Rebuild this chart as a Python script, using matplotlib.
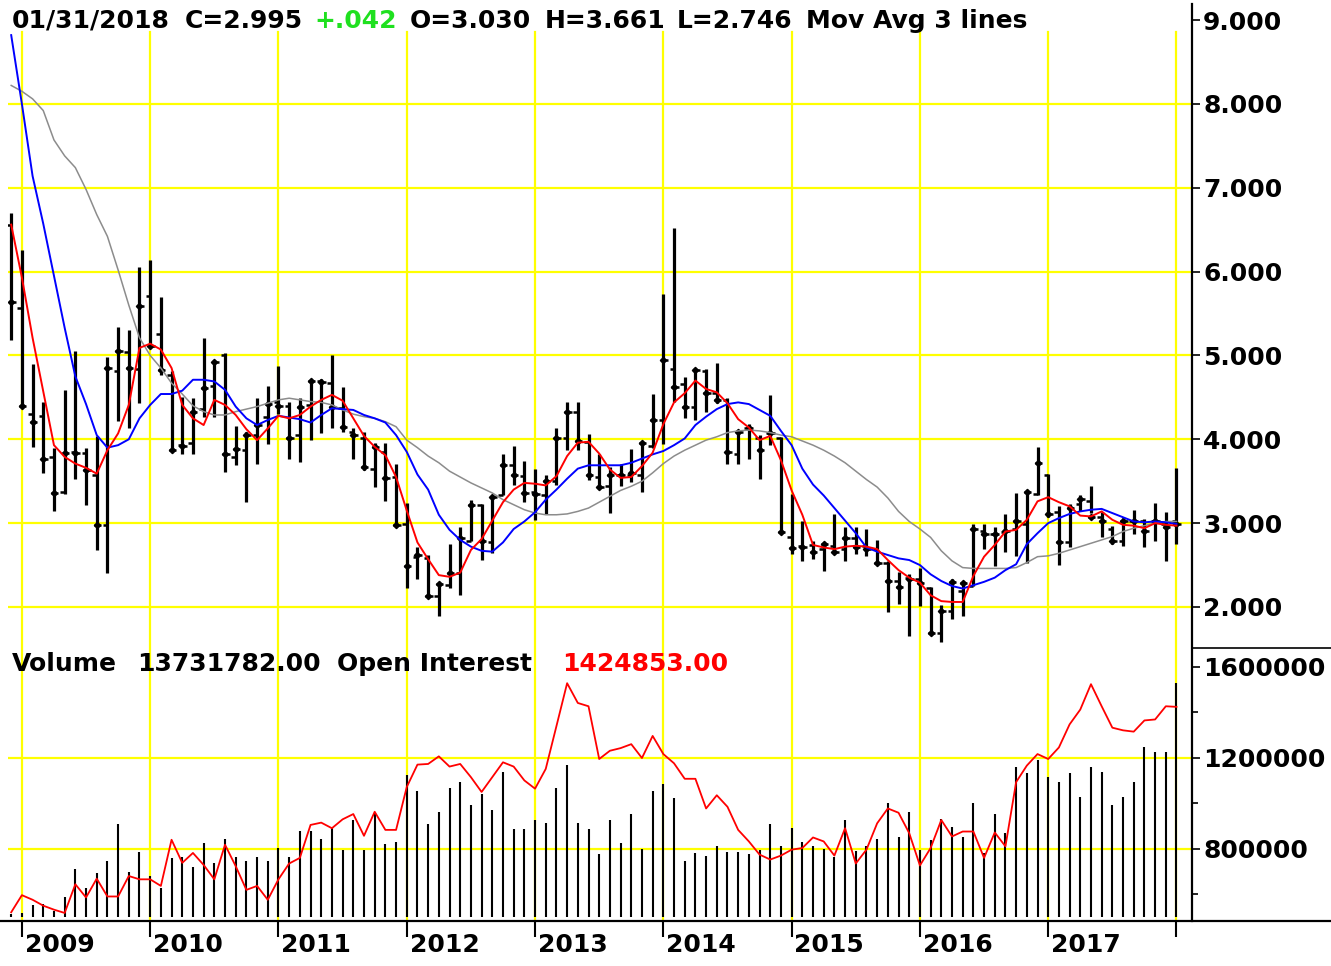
import matplotlib
matplotlib.use("Agg")
import matplotlib.pyplot as plt
from matplotlib.lines import Line2D
from matplotlib.transforms import blended_transform_factory as btf
import numpy as np

plt.rcParams['font.family'] = ['DejaVu Sans']
plt.rcParams['font.weight'] = 'bold'

# ---------------- data (monthly bars, Dec 2008 .. Jan 2018) ----------------
opens = [6.56, 5.57, 4.30, 4.28, 3.79, 3.37, 3.85, 3.84, 3.57, 2.98,
         4.82, 5.04, 4.84, 5.71, 5.26, 4.77, 3.93, 3.95, 4.36, 4.63,
         5.01, 3.79, 3.87, 4.05, 4.27, 4.45, 4.40, 4.05, 4.41, 4.70,
         4.67, 4.37, 4.09, 4.02, 3.65, 3.85, 3.55, 2.99, 2.60, 2.59,
         2.13, 2.26, 2.41, 2.79, 3.22, 2.77, 3.34, 3.69, 3.56, 3.37,
         3.34, 3.50, 4.02, 4.33, 3.97, 3.55, 3.44, 3.58, 3.57, 3.57,
         3.92, 4.23, 4.84, 4.66, 4.39, 4.82, 4.55, 4.47, 3.82, 4.13,
         4.02, 4.07, 4.01, 2.84, 2.73, 2.74, 2.69, 2.73, 2.69, 2.82,
         2.73, 2.69, 2.52, 2.31, 2.35, 2.33, 2.23, 1.69, 1.95, 2.19,
         2.25, 2.91, 2.87, 2.89, 2.93, 2.99, 3.35, 3.58, 3.13, 2.78,
         3.23, 3.27, 3.07, 2.93, 2.79, 3.03, 3.02, 3.03, 2.99, 3.030]
highs = [6.70, 6.26, 4.90, 4.44, 3.90, 4.59, 5.05, 3.90, 4.04, 4.98,
         5.34, 5.30, 6.05, 6.14, 5.70, 4.81, 4.50, 4.49, 5.21, 4.94,
         5.03, 4.16, 4.09, 4.49, 4.64, 4.88, 4.45, 4.49, 4.71, 4.72,
         5.01, 4.62, 4.13, 4.09, 3.95, 3.95, 3.70, 3.24, 2.72, 2.62,
         2.30, 2.75, 2.95, 3.28, 3.23, 3.34, 3.82, 3.92, 3.74, 3.64,
         3.57, 4.13, 4.44, 4.44, 4.06, 3.83, 3.67, 3.71, 3.88, 3.98,
         4.54, 5.73, 6.52, 4.74, 4.85, 4.84, 4.91, 4.49, 4.10, 4.18,
         4.05, 4.53, 4.03, 3.35, 3.03, 2.79, 2.77, 3.11, 2.95, 2.95,
         2.93, 2.80, 2.55, 2.42, 2.39, 2.46, 2.24, 2.02, 2.33, 2.31,
         2.99, 2.99, 2.95, 3.11, 3.36, 3.39, 3.91, 3.59, 3.21, 3.23,
         3.34, 3.44, 3.13, 2.96, 3.06, 3.16, 3.05, 3.24, 3.13, 3.661]
lows = [5.19, 4.37, 3.91, 3.60, 3.14, 3.35, 3.53, 3.22, 2.68, 2.40,
        4.22, 4.14, 4.43, 5.09, 4.77, 3.86, 3.82, 3.83, 4.27, 4.27,
        3.61, 3.69, 3.25, 3.71, 3.94, 4.30, 3.77, 3.73, 3.99, 4.07,
        4.14, 4.09, 3.76, 3.63, 3.43, 3.27, 2.95, 2.23, 2.33, 2.12,
        1.89, 2.23, 2.14, 2.79, 2.56, 2.64, 3.34, 3.46, 3.25, 3.04,
        3.11, 3.45, 3.87, 3.87, 3.51, 3.41, 3.12, 3.44, 3.49, 3.37,
        3.90, 3.94, 4.44, 4.25, 4.23, 4.33, 4.43, 3.71, 3.71, 3.76,
        3.53, 3.93, 2.87, 2.63, 2.55, 2.57, 2.43, 2.63, 2.55, 2.63,
        2.61, 2.51, 1.94, 2.04, 1.66, 2.01, 1.67, 1.58, 1.86, 1.89,
        2.25, 2.69, 2.49, 2.66, 2.61, 2.53, 3.33, 3.07, 2.50, 2.71,
        3.14, 3.12, 2.84, 2.75, 2.73, 2.87, 2.71, 2.79, 2.55, 2.746]
closes = [5.64, 4.40, 4.21, 3.77, 3.36, 3.84, 3.84, 3.63, 2.98, 4.85,
          5.05, 4.85, 5.59, 5.11, 4.83, 3.87, 3.92, 4.33, 4.61, 4.92,
          3.82, 3.88, 4.05, 4.17, 4.42, 4.40, 4.02, 4.39, 4.70, 4.68,
          4.39, 4.15, 4.05, 3.67, 3.91, 3.54, 2.98, 2.49, 2.62, 2.13,
          2.28, 2.41, 2.82, 3.22, 2.79, 3.31, 3.69, 3.57, 3.36, 3.35,
          3.50, 4.02, 4.33, 3.98, 3.57, 3.43, 3.58, 3.57, 3.60, 3.95,
          4.23, 4.95, 4.62, 4.39, 4.83, 4.55, 4.47, 3.85, 4.09, 4.14,
          3.87, 4.07, 2.90, 2.70, 2.71, 2.66, 2.75, 2.65, 2.82, 2.71,
          2.69, 2.52, 2.31, 2.24, 2.33, 2.29, 1.69, 1.95, 2.30, 2.29,
          2.93, 2.87, 2.87, 2.91, 3.02, 3.37, 3.72, 3.11, 2.78, 3.18,
          3.29, 3.07, 3.02, 2.79, 3.03, 3.02, 2.91, 3.02, 2.95, 2.995]

ma_red = [6.56, 5.93, 5.21, 4.57, 3.93, 3.79, 3.71, 3.66, 3.59, 3.87,
          4.07, 4.41, 5.09, 5.14, 5.07, 4.85, 4.41, 4.25, 4.17, 4.47,
          4.41, 4.29, 4.12, 3.99, 4.13, 4.28, 4.25, 4.29, 4.39, 4.47,
          4.53, 4.46, 4.25, 4.04, 3.91, 3.81, 3.55, 3.15, 2.77, 2.57,
          2.38, 2.36, 2.41, 2.68, 2.81, 3.03, 3.25, 3.40, 3.48, 3.47,
          3.45, 3.56, 3.80, 3.96, 3.97, 3.83, 3.64, 3.54, 3.55, 3.68,
          3.84, 4.18, 4.44, 4.55, 4.70, 4.60, 4.56, 4.43, 4.24, 4.14,
          3.99, 4.04, 3.75, 3.39, 3.10, 2.74, 2.71, 2.69, 2.72, 2.73,
          2.72, 2.69, 2.56, 2.44, 2.35, 2.29, 2.14, 2.07, 2.06, 2.06,
          2.37, 2.60, 2.74, 2.90, 2.92, 3.04, 3.26, 3.31, 3.25, 3.20,
          3.09, 3.08, 3.14, 3.04, 2.98, 2.97, 2.94, 3.00, 2.98, 2.97]
ma_blue = [8.82, 8.00, 7.14, 6.57, 5.95, 5.33, 4.75, 4.42, 4.05, 3.90,
           3.93, 4.00, 4.25, 4.41, 4.54, 4.54, 4.58, 4.71, 4.71, 4.69,
           4.59, 4.39, 4.25, 4.17, 4.23, 4.28, 4.26, 4.24, 4.20, 4.29,
           4.37, 4.36, 4.35, 4.29, 4.25, 4.20, 4.05, 3.85, 3.58, 3.40,
           3.10, 2.92, 2.80, 2.72, 2.67, 2.66, 2.77, 2.93, 3.02, 3.13,
           3.28, 3.40, 3.53, 3.65, 3.69, 3.69, 3.69, 3.69, 3.72, 3.77,
           3.82, 3.86, 3.93, 4.01, 4.17, 4.27, 4.36, 4.42, 4.44, 4.42,
           4.35, 4.28, 4.10, 3.93, 3.65, 3.46, 3.33, 3.18, 3.03, 2.88,
           2.71, 2.66, 2.62, 2.58, 2.56, 2.50, 2.39, 2.31, 2.25, 2.22,
           2.26, 2.30, 2.35, 2.44, 2.51, 2.75, 2.88, 3.00, 3.06, 3.11,
           3.14, 3.16, 3.17, 3.12, 3.07, 3.02, 3.01, 3.02, 3.01, 2.99]
ma_grey = [8.22, 8.15, 8.06, 7.92, 7.57, 7.38, 7.24, 6.98, 6.68, 6.42,
           6.02, 5.60, 5.21, 5.00, 4.85, 4.67, 4.54, 4.40, 4.33, 4.29,
           4.29, 4.33, 4.36, 4.39, 4.43, 4.47, 4.49, 4.47, 4.45, 4.44,
           4.41, 4.35, 4.30, 4.27, 4.25, 4.21, 4.15, 3.99, 3.90, 3.80,
           3.72, 3.62, 3.55, 3.48, 3.42, 3.36, 3.28, 3.22, 3.16, 3.12,
           3.10, 3.10, 3.11, 3.14, 3.18, 3.25, 3.32, 3.39, 3.44, 3.50,
           3.60, 3.71, 3.80, 3.87, 3.93, 3.99, 4.03, 4.08, 4.10, 4.11,
           4.10, 4.08, 4.05, 4.03, 3.98, 3.93, 3.87, 3.80, 3.72, 3.62,
           3.52, 3.43, 3.30, 3.14, 3.02, 2.93, 2.83, 2.67, 2.55, 2.47,
           2.46, 2.46, 2.46, 2.46, 2.47, 2.53, 2.60, 2.61, 2.64, 2.68,
           2.72, 2.76, 2.80, 2.84, 2.90, 2.94, 2.97, 3.00, 3.02, 3.02]

volume_m = [0.15, 0.25, 0.70, 0.76, 0.37, 1.15, 2.80, 1.68, 2.56, 3.31,
            5.44, 2.66, 3.82, 2.43, 1.68, 3.44, 3.54, 2.91, 4.32, 3.19,
            4.56, 3.54, 3.31, 3.54, 3.31, 4.03, 3.54, 5.07, 5.07, 4.56,
            5.20, 3.93, 5.69, 3.93, 6.12, 4.29, 4.42, 8.34, 7.42, 5.44,
            6.18, 7.55, 7.94, 6.57, 7.22, 6.28, 8.53, 5.17, 5.17, 5.69,
            5.54, 7.55, 8.92, 5.54, 5.17, 3.70, 5.69, 4.32, 6.05, 3.97,
            7.42, 7.81, 6.97, 3.31, 3.78, 3.58, 4.17, 3.82, 3.82, 3.70,
            3.93, 5.44, 4.17, 5.20, 4.42, 4.17, 3.97, 3.54, 5.69, 3.89,
            4.17, 4.56, 6.67, 4.68, 6.18, 3.93, 4.52, 5.73, 5.30, 4.68,
            6.67, 3.74, 6.05, 4.91, 8.82, 8.43, 9.22, 8.24, 7.94, 8.43,
            7.06, 8.82, 8.53, 6.57, 7.06, 7.94, 9.96, 9.65, 9.70, 13.73]
open_interest = [521800, 597100, 576900, 550800, 533400, 518900, 645000, 587000, 669600, 591300,
                 591300, 681200, 666700, 666700, 637700, 840600, 739100, 782600, 730000, 666700,
                 818800, 724600, 620300, 637700, 576900, 666700, 736200, 760900, 905800, 915900,
                 891300, 930400, 953600, 858000, 963700, 884000, 884000, 1072400, 1170900, 1173800,
                 1207200, 1162300, 1173800, 1115900, 1050700, 1115900, 1181100, 1162300, 1101400, 1065200,
                 1152100, 1340000, 1528800, 1441900, 1427400, 1195600, 1231800, 1243400, 1260800, 1199900,
                 1297000, 1217300, 1176700, 1108600, 1108600, 978200, 1036200, 985500, 884000, 833300,
                 775400, 753600, 771000, 797100, 804300, 850700, 833300, 771000, 891300, 736200,
                 797100, 913000, 978200, 959400, 869600, 727600, 804300, 927500, 855100, 876800,
                 876800, 760900, 872500, 811600, 1094100, 1166600, 1217300, 1195600, 1246300, 1347700,
                 1412900, 1524500, 1427400, 1333200, 1321600, 1315800, 1365100, 1369400, 1427400, 1424853]

year_labels = ['2009', '2010', '2011', '2012', '2013', '2014', '2015', '2016', '2017', '']
year_index = [1, 13, 25, 37, 49, 61, 73, 85, 97, 109]

price_ticks = [2, 3, 4, 5, 6, 7, 8, 9]
oi_ticks = [800000, 1200000, 1600000]
oi_minor = [600000, 1000000, 1400000]

header = [("01/31/2018", 12, 'black'), ("C=2.995", 185, 'black'), ("+.042", 314, '#1fe01f'),
          ("O=3.030", 410, 'black'), ("H=3.661", 545, 'black'), ("L=2.746", 677, 'black'),
          ("Mov Avg 3 lines", 806, 'black')]
header2 = [("Volume", 12, 'black'), ("13731782.00", 137, 'black'),
           ("Open Interest", 337, 'black'), ("1424853.00", 562, '#ff0000')]

# ---------------- layout ----------------
W, H = 1331, 966
fig = plt.figure(figsize=(W / 100, H / 100), dpi=100)
fig.patch.set_facecolor('white')

def fx(px):
    return px / W

def fy(py):
    return 1 - py / H

X0, X1 = 8, 1192
P_TOP, P_BOT, V_BOT = 2, 648, 921
YEL = '#ffff00'
FS = 18

ax_p = fig.add_axes([fx(X0), fy(P_BOT), (X1 - X0) / W, (P_BOT - P_TOP) / H])
ax_v = fig.add_axes([fx(X0), fy(V_BOT), (X1 - X0) / W, (V_BOT - P_BOT) / H])
ax_oi = ax_v.twinx()

idx = np.arange(len(closes))
xlim = (-0.299, 110.45)
for a in (ax_p, ax_v, ax_oi):
    a.set_xlim(*xlim)
    for s in a.spines.values():
        s.set_visible(False)
    a.set_xticks([])
ax_oi.patch.set_visible(False)
ax_p.set_ylim(1.511, 9.215)
ax_v.set_ylim(-0.235, 15.78)
ax_oi.set_ylim(483500, 1683500)
ax_v.set_yticks([])

# grid
for v in price_ticks[:-1]:
    ax_p.axhline(v, color=YEL, lw=1.6, zorder=0)
for i in year_index:
    ax_p.axvline(i, ymax=(P_BOT - 32) / (P_BOT - P_TOP), color=YEL, lw=1.6, zorder=0)
    ax_v.axvline(i, color=YEL, lw=1.6, zorder=0)
tr = btf(ax_v.transAxes, ax_oi.transData)
for v in [800000, 1200000]:
    ax_v.plot([0, 1], [v, v], transform=tr, color=YEL, lw=1.6, zorder=0)

# OHLC bars
ax_p.vlines(idx, lows, highs, color='black', lw=2.3, zorder=2)
ax_p.hlines(opens, idx - 0.42, idx, color='black', lw=1.8, zorder=2)
ax_p.hlines(closes, idx - 0.25, idx + 0.42, color='black', lw=1.8, zorder=2)
ax_p.plot(idx, closes, 'D', ms=3.2, color='black', zorder=2)

# moving averages
ax_p.plot(idx, ma_grey, color='#8c8c8c', lw=1.1, zorder=3)
ax_p.plot(idx, ma_blue, color='#0000ff', lw=1.4, zorder=4)
ax_p.plot(idx, ma_red, color='#ff0000', lw=1.4, zorder=5)

# volume + open interest
ax_v.vlines(idx, 0, volume_m, color='black', lw=1.5, zorder=2)
ax_oi.plot(idx, open_interest, color='#ff0000', lw=1.3, zorder=3)

# right axis ticks
ax_p.yaxis.tick_right()
ax_p.set_yticks(price_ticks)
ax_p.set_yticklabels(['%.3f' % t for t in price_ticks])
ax_p.tick_params(axis='y', direction='out', length=6, width=1.2, pad=2, labelsize=FS)
ax_oi.set_yticks(oi_ticks)
ax_oi.set_yticklabels(['%d' % t for t in oi_ticks])
ax_oi.set_yticks(oi_minor, minor=True)
ax_oi.tick_params(axis='y', which='major', direction='out', length=6, width=1.2, pad=2, labelsize=FS)
ax_oi.tick_params(axis='y', which='minor', direction='out', length=4, width=1.2)
for lab in ax_p.get_yticklabels() + ax_oi.get_yticklabels():
    lab.set_fontweight('bold')

# frame lines
fig.add_artist(Line2D([fx(X1), fx(X1)], [fy(4), fy(V_BOT)], color='black', lw=1.6))
fig.add_artist(Line2D([0, 1], [fy(V_BOT), fy(V_BOT)], color='black', lw=1.6))
fig.add_artist(Line2D([fx(X1), 1], [fy(P_BOT), fy(P_BOT)], color='black', lw=1.2))

# year ticks and labels
trx = btf(ax_v.transData, ax_v.transAxes)
ax_v.vlines(year_index, -16 / (V_BOT - P_BOT), 0, transform=trx, color='black', lw=1.5, clip_on=False)
for lab, i in zip(year_labels, year_index):
    if lab:
        ax_v.annotate(lab, xy=(i, 0), xycoords=trx, xytext=(2.0, -17.5), textcoords='offset points',
                      ha='left', va='center', fontsize=FS, fontweight='bold')

# header texts
for t, x, c in header:
    fig.text(fx(x), fy(21), t, ha='left', va='center', fontsize=FS, fontweight='bold', color=c)
for t, x, c in header2:
    fig.text(fx(x), fy(664), t, ha='left', va='center', fontsize=FS, fontweight='bold', color=c)

fig.savefig('out.png', dpi=100)
